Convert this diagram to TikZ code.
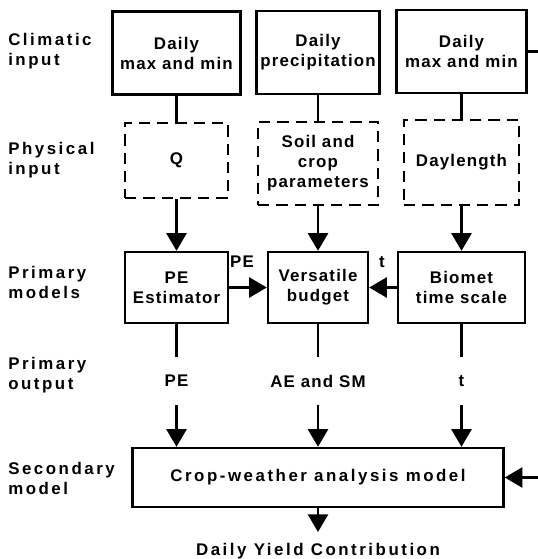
\documentclass[tikz,border=0pt]{standalone}
\usepackage{fontspec}
\setmainfont{Liberation Sans}
\newfontfamily\labfont[LetterSpace=15]{Liberation Sans}
\newfontfamily\boxfont[LetterSpace=7]{Liberation Sans}
\usetikzlibrary{arrows.meta}

\begin{document}
\begin{tikzpicture}[
  x=0.025cm, y=-0.025cm,
  box/.style={draw, line width=1.7pt, align=center, inner sep=0pt, minimum height=2.075cm, font=\boxfont\bfseries\fontsize{12}{14.2}\selectfont},
  dbox/.style={box, dash pattern=on 8pt off 5pt},
  side/.style={anchor=west, align=left, inner sep=0pt, font=\labfont\bfseries\fontsize{12}{14.2}\selectfont},
  outtext/.style={inner sep=0pt, minimum height=1.175cm, font=\boxfont\bfseries\fontsize{12}{14.2}\selectfont},
  link/.style={line width=1.7pt},
  arrow/.style={link, -{Triangle[length=4.4mm, width=5mm]}}
]
\useasboundingbox (0,0) rectangle (538,559);
\clip (0,0) rectangle (538,559);

\node[side] (lclim) at (8,51) {Climatic\\input};
\node[side] (lphys) at (8,160) {Physical\\input};
\node[side] (lprim) at (8,282) {Primary\\models};
\node[side] (lout) at (8,375) {Primary\\output};
\node[side] (lsec) at (8,478) {Secondary\\model};

\node[box, minimum width=3.2cm] (maxmin) at (176.5,53) {Daily\\max and min};
\node[box, minimum width=3.075cm] (precip) at (318,52.5) {Daily\\precipitation};
\node[box, minimum width=3.25cm] (maxmin2) at (461.5,51.5) {Daily\\max and min};
\node[dbox, minimum width=2.575cm, minimum height=1.875cm] (q) at (176.5,160.5) {Q};
\node[dbox, minimum width=3cm] (soil) at (318,163.5) {Soil and\\crop\\parameters};
\node[dbox, minimum width=2.875cm, minimum height=2.125cm] (daylen) at (461.5,162.5) {Daylength};
\node[box, minimum width=2.575cm, minimum height=1.775cm] (pe) at (176.5,287.5) {PE\\Estimator};
\node[box, minimum width=2.5cm, minimum height=1.775cm] (budget) at (318,287.5) {Versatile\\budget};
\node[box, minimum width=3.175cm, minimum height=1.775cm] (biomet) at (461.5,287.5) {Biomet\\time scale};
\node[outtext] (peout) at (176.5,381) {PE};
\node[outtext] (aesm) at (318,381) {AE and SM};
\node[outtext] (tout) at (461.5,381) {t};
\node[box, minimum width=9.275cm, minimum height=1.475cm, font=\labfont\bfseries\fontsize{12}{14.2}\selectfont] (crop) at (318,477.5) {Crop-weather analysis model};
\node[anchor=north, inner ysep=0.27cm, inner xsep=0pt, font=\labfont\bfseries\fontsize{12}{14.2}\selectfont] (yield) at (318,532) {Daily Yield Contribution};
\node[outtext, minimum height=0pt] (pelab) at (242,262) {PE};
\node[outtext, minimum height=0pt] (tlab) at (382,262) {t};

\draw[link] (maxmin) -- (q);
\draw[link] (precip) -- (soil);
\draw[link] (maxmin2) -- (daylen);
\draw[arrow] (q) -- (pe);
\draw[arrow] (soil) -- (budget);
\draw[arrow] (daylen) -- (biomet);
\draw[arrow] (pe) -- (budget);
\draw[arrow] (biomet) -- (budget);
\draw[link] (pe) -- (peout);
\draw[link] (budget) -- (aesm);
\draw[link] (biomet) -- (tout);
\draw[arrow] (peout.south) -- (peout.south |- crop.north);
\draw[arrow] (aesm) -- (crop);
\draw[arrow] (tout.south) -- (tout.south |- crop.north);
\draw[arrow] (maxmin2.east) -- ++(40,0) |- (crop.east);
\draw[arrow] (crop) -- (yield);
\end{tikzpicture}
\end{document}
